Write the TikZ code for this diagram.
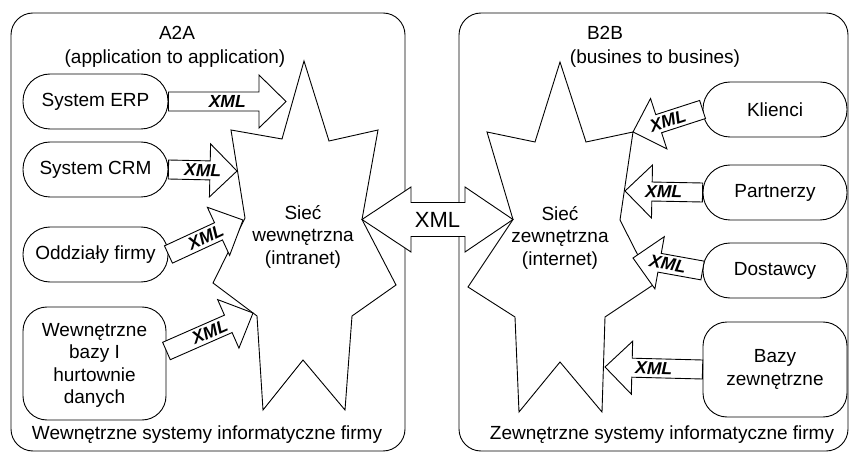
\documentclass[tikz,border=0pt]{standalone}
\usepackage{fontspec}
\setmainfont{Liberation Sans}
\usetikzlibrary{calc}

% half width of an arrow shaft, half width of its head, length of its head
\newcommand\shafthw{9.5pt}
\newcommand\headhw{26.5pt}
\newcommand\headlen{27pt}

% block arrow labelled XML, from a tail point #2 to a tip point #3
\newcommand\xmlarrow[3][0.5]{%
  \coordinate (hb) at ($(#3)!\headlen!(#2)$);
  \draw[blockarrow]
    ($(#2)!\shafthw!90:(#3)$) --
    ($(hb)!\shafthw!90:(#3)$) --
    ($(hb)!\headhw!90:(#3)$) --
    (#3) --
    ($(hb)!\headhw!-90:(#3)$) --
    ($(hb)!\shafthw!-90:(#3)$) --
    ($(#2)!\shafthw!-90:(#3)$) -- cycle;
  \path (#2) -- (#3) node[xmllabel, pos=#1, sloped] {XML};
}

\begin{document}
\begin{tikzpicture}[x=1pt, y=-1pt,
  line width=0.9pt,
  txt/.style={inner sep=0pt, font=\fontsize{19}{22.5}\selectfont, align=center},
  panel/.style={draw, rounded corners=22pt},
  netstar/.style={draw, fill=white, line join=miter},
  stadium/.style={draw, fill=white, minimum width=144pt, minimum height=55pt,
    rounded corners=27pt, inner sep=0pt, font=\fontsize{19}{22.5}\selectfont, align=center},
  tallbox/.style={stadium, rounded corners=24pt},
  blockarrow/.style={draw, fill=white, line join=miter},
  xmllabel/.style={inner sep=0pt, font=\fontsize{17.5}{20}\selectfont\bfseries\itshape},
  bigxml/.style={inner sep=0pt, font=\fontsize{22}{24}\selectfont},
]
\useasboundingbox (0,0) rectangle (849,457);

% the two system areas
\draw[panel] (11,13) rectangle (405,451);
\draw[panel] (459,13) rectangle (848,451);

\node[txt] (a2a) at (177,32.5) {A2A};
\node[txt] (a2asub) at (175,59) {(application to application)};
\node[txt] (b2b) at (605,32.5) {B2B};
\node[txt] (b2bsub) at (655,59) {(busines to busines)};
\node[txt] (intl) at (207,435) {Wewnętrzne systemy informatyczne firmy};
\node[txt] (extl) at (662,435) {Zewnętrzne systemy informatyczne firmy};

% intranet star
\coordinate (sw-r) at (362,219.5);
\draw[netstar] (304,61) -- (329,141) -- (378,130) -- (sw-r) -- (396,285)
  -- (352,316) -- (345,410) -- (303,360) -- (263,410) -- (257,316)
  -- (213,283) -- (245,218) -- (231,130) -- (282,139) -- cycle;

% internet star
\coordinate (sz-l) at (513,219.5);
\coordinate (sz-ur) at (633,132);
\draw[netstar] (560,62) -- (586,142) -- (sz-ur) -- (620,220) -- (653,285)
  -- (605,317) -- (602,412) -- (560,362) -- (519,412) -- (515,317)
  -- (468,287) -- (sz-l) -- (487,132) -- (535,142) -- cycle;

% XML link between the two networks
\draw[blockarrow] (sw-r) -- ++(49,-32.5) -- ++(0,15.5) -- ($(sz-l)+(-48,-17)$)
  -- ++(0,-15.5) -- (sz-l) -- ++(-48,32.5) -- ++(0,-15.5)
  -- ($(sw-r)+(49,17)$) -- ++(0,15.5) -- cycle;
\node[bigxml] (xmllink) at ($(sw-r)!0.5!(sz-l)$) {XML};

\node[txt] (intranet) at (303,236.5) {Sieć\\wewnętrzna\\(intranet)};
\node[txt] (internet) at (560,237.5) {Sieć\\zewnętrzna\\(internet)};

% internal systems
\node[stadium, minimum width=145pt] (erp) at (95.5,101.5) {System ERP};
\node[stadium, minimum width=145pt] (crm) at (95.5,169.5) {System CRM};
\node[stadium, minimum width=145pt] (odd) at (95.5,254.5) {Oddziały firmy};
\node[tallbox, minimum width=143pt, minimum height=113pt, text depth=0pt]
  (wb) at (94.5,363.5) {Wewnętrzne\\bazy I\\hurtownie\\danych};

% external systems
\node[stadium] (kl) at (775,109.5) {Klienci};
\node[stadium] (pa) at (775,192.5) {Partnerzy};
\node[stadium] (do) at (775,270.5) {Dostawcy};
\node[tallbox, minimum height=95pt] (bz) at (775,369.5) {Bazy\\zewnętrzne};

% arrow tips on the stars
\coordinate (t-erp) at (286,101.5);
\coordinate (t-crm) at (237,171);
\coordinate (t-odd) at (243,220);
\coordinate (t-wb) at (253,313);
\coordinate (t-pa) at (625,191);
\coordinate (t-do) at (633,258);
\coordinate (t-bz) at (605,367);

\xmlarrow{erp.east}{t-erp}
\xmlarrow{crm.east}{t-crm}
\xmlarrow{odd.east}{t-odd}
\xmlarrow{[yshift=12.5pt]wb.east}{t-wb}
\xmlarrow{kl.west}{sz-ur}
\xmlarrow{pa.west}{t-pa}
\xmlarrow{do.west}{t-do}
\xmlarrow{bz.west}{t-bz}
\end{tikzpicture}
\end{document}
